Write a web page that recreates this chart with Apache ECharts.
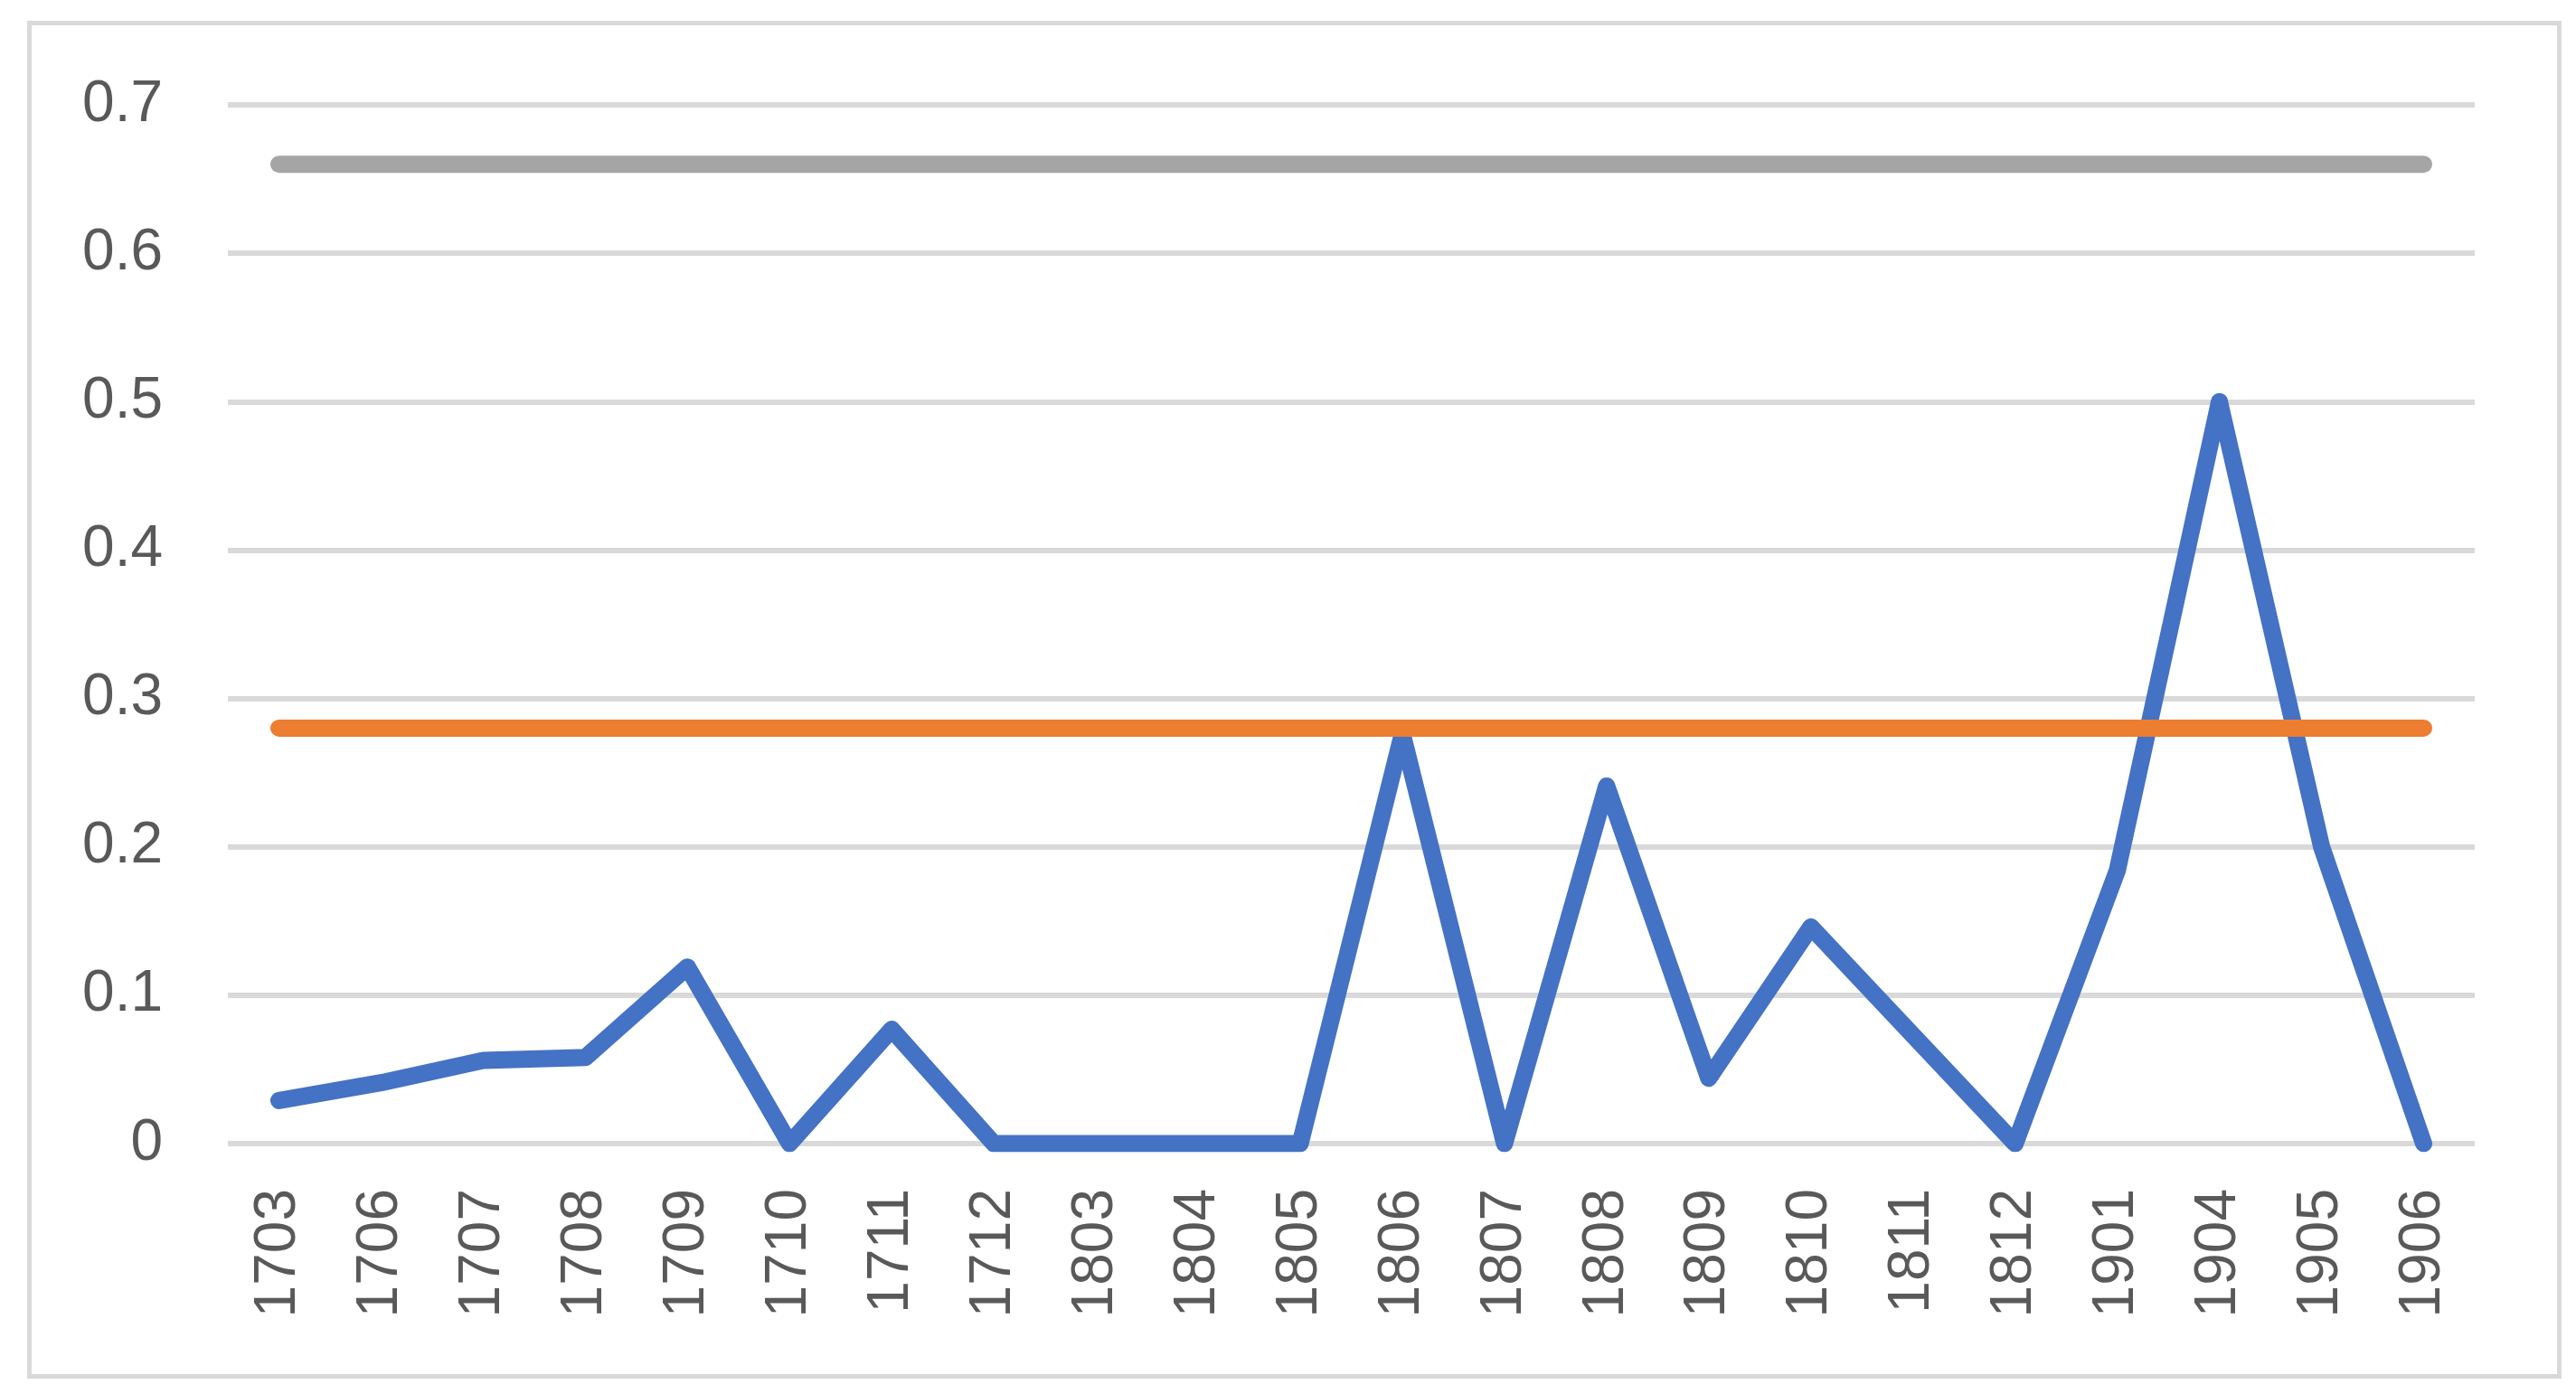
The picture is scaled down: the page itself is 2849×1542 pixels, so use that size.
<!DOCTYPE html>
<html>
<head>
<meta charset="utf-8">
<script src="https://cdn.jsdelivr.net/npm/echarts@6/dist/echarts.min.js"></script>
<style>
	html, body { margin: 0; padding: 0; background: #fff; }
	#id_chart { width: 2849px; height: 1542px; }
</style>
</head>
<body>
<div id="id_chart"></div>
<script>
// categories along the x axis
var __years = ["1703", "1706", "1707", "1708", "1709", "1710", "1711", "1712",
	"1803", "1804", "1805", "1806", "1807", "1808", "1809", "1810", "1811", "1812",
	"1901", "1904", "1905", "1906"];

// blue series
var __values = [0.029, 0.041, 0.056, 0.058, 0.119, 0, 0.077, 0,
	0, 0, 0, 0.276, 0, 0.241, 0.044, 0.146, 0.073, 0,
	0.184, 0.5, 0.2, 0];

// orange and grey reference lines
var __orange = [0.28, 0.28, 0.28, 0.28, 0.28, 0.28, 0.28, 0.28, 0.28, 0.28, 0.28,
	0.28, 0.28, 0.28, 0.28, 0.28, 0.28, 0.28, 0.28, 0.28, 0.28, 0.28];
var __grey = [0.66, 0.66, 0.66, 0.66, 0.66, 0.66, 0.66, 0.66, 0.66, 0.66, 0.66,
	0.66, 0.66, 0.66, 0.66, 0.66, 0.66, 0.66, 0.66, 0.66, 0.66, 0.66];

var chart = echarts.init(document.getElementById("id_chart"), null, { renderer: "canvas" });

var colors = ["#4472c4", "#ed7d31", "#a5a5a5"];
var labelFont = {
	color: "#595959",
	fontFamily: "Liberation Sans, Arial, sans-serif",
	fontSize: 64
};

function lineSeries(name, data, color) {
	return {
		type: "line",
		name: name,
		data: data,
		showSymbol: false,
		symbol: "none",
		lineStyle: {
			color: color,
			width: 19,
			cap: "round",
			join: "round"
		}
	};
}

var option = {
	animation: false,
	backgroundColor: "#fff",
	// outer chart frame
	graphic: [
		{
			type: "rect",
			left: 30,
			top: 23,
			shape: { width: 2798, height: 1497 },
			style: { fill: "none", stroke: "#d9d9d9", lineWidth: 5 },
			silent: true
		}
	],
	grid: {
		left: 252,
		right: 112,
		top: 116,
		bottom: 277
	},
	xAxis: {
		type: "category",
		data: __years,
		boundaryGap: true,
		axisLine: { show: false },
		axisTick: { show: false },
		axisLabel: Object.assign({
			interval: 0,
			rotate: 90,
			margin: 50
		}, labelFont)
	},
	yAxis: {
		type: "value",
		min: 0,
		max: 0.7,
		interval: 0.1,
		axisLine: { show: false },
		axisTick: { show: false },
		axisLabel: Object.assign({ margin: 72 }, labelFont),
		splitLine: {
			show: true,
			lineStyle: { color: "#d9d9d9", width: 6 }
		}
	},
	series: [
		lineSeries("values", __values, colors[0]),
		lineSeries("orange", __orange, colors[1]),
		lineSeries("grey", __grey, colors[2])
	]
};
chart.setOption(option);
</script>
</body>
</html>
